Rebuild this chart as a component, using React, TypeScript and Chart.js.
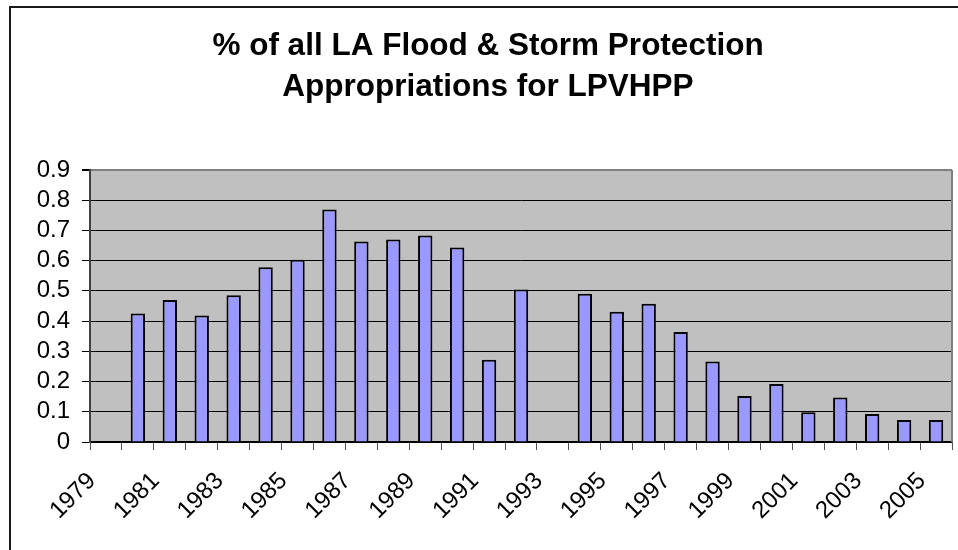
import React, { useEffect, useRef } from "react";
import { Chart, registerables } from "chart.js";

Chart.register(...registerables);

const years = [
  "1979", "1980", "1981", "1982", "1983", "1984", "1985", "1986", "1987",
  "1988", "1989", "1990", "1991", "1992", "1993", "1994", "1995", "1996",
  "1997", "1998", "1999", "2000", "2001", "2002", "2003", "2004", "2005",
];

const shares: (number | null)[] = [
  null, 0.425, 0.47, 0.418, 0.485, 0.578, 0.603, 0.769, 0.663,
  0.67, 0.683, 0.643, 0.272, 0.504, null, 0.49, 0.431, 0.457,
  0.364, 0.266, 0.152, 0.192, 0.098, 0.147, 0.093, 0.073, 0.073,
];

const yTickValues = [0, 0.1, 0.2, 0.3, 0.4, 0.5, 0.6, 0.7, 0.8, 0.9];

const titleLines = [
  "% of all LA Flood & Storm Protection",
  "Appropriations for LPVHPP",
];

const FONT = "'Liberation Sans', Arial, sans-serif";

const framePlugin = {
  id: "frame",
  beforeDraw(chart: any) {
    const { ctx, chartArea } = chart;
    ctx.save();
    ctx.fillStyle = "#ffffff";
    ctx.fillRect(0, 0, chart.width, chart.height);
    ctx.fillStyle = "#C0C0C0";
    ctx.fillRect(
      chartArea.left,
      chartArea.top,
      chartArea.right - chartArea.left,
      chartArea.bottom - chartArea.top
    );
    ctx.restore();
  },
  afterDraw(chart: any) {
    const { ctx, chartArea } = chart;
    ctx.save();
    ctx.strokeStyle = "#808080";
    ctx.lineWidth = 2;
    ctx.beginPath();
    ctx.moveTo(chartArea.right, chartArea.top);
    ctx.lineTo(chartArea.right, chartArea.bottom);
    ctx.stroke();
    ctx.strokeStyle = "#1a1a1a";
    ctx.lineWidth = 2;
    ctx.strokeRect(10, 7, 2000, 2000);
    ctx.restore();
  },
};

export default function App() {
  const ref = useRef<HTMLCanvasElement | null>(null);

  useEffect(() => {
    if (!ref.current) return;
    const chart = new Chart(ref.current, {
      type: "bar",
      data: {
        labels: years,
        datasets: [
          {
            data: shares,
            backgroundColor: "#9999FF",
            borderColor: "#000000",
            borderWidth: 2,
            barPercentage: 0.45,
            categoryPercentage: 1,
          },
        ],
      },
      options: {
        animation: false,
        responsive: false,
        layout: { padding: { left: 24, right: 6, top: 0, bottom: 0 } },
        plugins: {
          legend: { display: false },
          tooltip: { enabled: false },
          title: {
            display: true,
            text: titleLines,
            color: "#000000",
            font: { family: FONT, size: 31.5, weight: "bold", lineHeight: 1.3 },
            padding: { top: 26, bottom: 62 },
          },
        },
        scales: {
          x: {
            type: "category",
            offset: true,
            grid: {
              offset: true,
              drawOnChartArea: false,
              drawTicks: true,
              tickLength: 8,
              tickColor: "#555555",
              lineWidth: 1,
            },
            border: { display: true, color: "#000000", width: 1.5 },
            ticks: {
              autoSkip: false,
              minRotation: 45,
              maxRotation: 45,
              padding: 17,
              labelOffset: -14,
              color: "#000000",
              font: { family: FONT, size: 24 },
              callback: (_v: any, i: number) => (i % 2 === 0 ? years[i] : ""),
            },
            afterFit: (s: any) => {
              s.height = 108;
              s.paddingLeft = 0;
              s.paddingRight = 0;
            },
          },
          y: {
            min: 0,
            max: 0.9,
            grid: {
              color: (c: any) =>
                c.tick && Math.abs(c.tick.value - 0.9) < 1e-6 ? "#808080" : "#000000",
              lineWidth: (c: any) =>
                c.tick && Math.abs(c.tick.value - 0.9) < 1e-6 ? 2 : 1,
              tickLength: 8,
              tickColor: "#000000",
            },
            border: { display: true, color: "#404040", width: 2 },
            afterBuildTicks: (s: any) => {
              s.ticks = yTickValues.map((v) => ({ value: v }));
            },
            ticks: {
              autoSkip: false,
              padding: 12,
              color: "#000000",
              font: { family: FONT, size: 24 },
              callback: (v: any) => String(Math.round(Number(v) * 10) / 10),
            },
            afterFit: (s: any) => {
              s.width = 66;
              s.paddingTop = 0;
              s.paddingBottom = 0;
            },
          },
        },
      },
      plugins: [framePlugin],
    } as any);
    return () => chart.destroy();
  }, []);

  return (
    <div style={{ position: "absolute", left: 0, top: 0, width: 958, height: 550 }}>
      <canvas ref={ref} width={958} height={550} style={{ display: "block" }} />
    </div>
  );
}
